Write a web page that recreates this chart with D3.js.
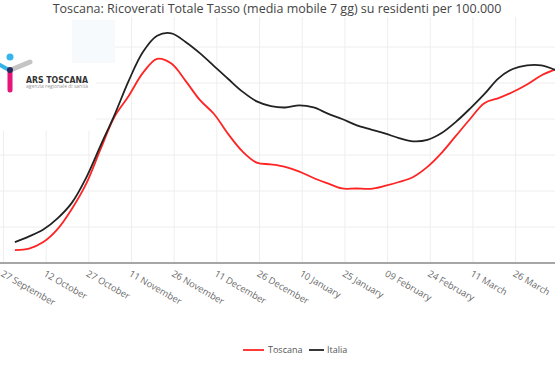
<!DOCTYPE html>
<html>
<head>
<meta charset="utf-8">
<script src="https://cdn.jsdelivr.net/npm/d3@7"></script>
<style>
  html, body { margin: 0; padding: 0; background: #fff; }
  svg { display: block; font-family: "Open Sans", "DejaVu Sans", sans-serif; }
</style>
</head>
<body>
<svg id="chart" width="555" height="370"></svg>
<script>
// ---- data ----
const dates = [
  "2020-10-01","2020-10-06","2020-10-11","2020-10-16","2020-10-21","2020-10-26","2020-10-31",
  "2020-11-05","2020-11-10","2020-11-15","2020-11-20","2020-11-25","2020-11-30","2020-12-05",
  "2020-12-10","2020-12-15","2020-12-20","2020-12-25","2020-12-30","2021-01-04","2021-01-09",
  "2021-01-14","2021-01-19","2021-01-24","2021-01-29","2021-02-03","2021-02-08","2021-02-13",
  "2021-02-18","2021-02-23","2021-02-28","2021-03-05","2021-03-10","2021-03-15","2021-03-20",
  "2021-03-25","2021-03-30","2021-04-04","2021-04-09"
];
const toscana = [
  3.6, 4.0, 5.8, 9.4, 15.0, 21.9, 31.4,
  40.6, 46.4, 52.8, 56.7, 55.4, 50.6, 45.3,
  41.4, 35.8, 31.0, 27.9, 27.4, 26.7, 25.4,
  23.6, 22.1, 20.7, 20.7, 20.6, 21.4, 22.5,
  23.9, 26.7, 30.6, 35.3, 40.0, 44.4, 45.8,
  47.5, 49.6, 52.1, 53.8
];
const italia = [
  5.8, 7.4, 9.3, 12.4, 16.7, 23.6, 32.4,
  41.1, 50.6, 58.6, 63.1, 63.8, 61.4, 58.3,
  54.7, 51.1, 47.6, 44.9, 43.6, 43.2, 43.8,
  43.2, 41.5, 40.0, 38.3, 37.1, 36.0, 34.7,
  33.8, 34.2, 36.1, 39.2, 42.9, 46.9, 51.3,
  53.9, 54.9, 54.9, 53.6
];
const tickDates = [
  "2020-09-27","2020-10-12","2020-10-27","2020-11-11","2020-11-26","2020-12-11","2020-12-26",
  "2021-01-10","2021-01-25","2021-02-09","2021-02-24","2021-03-11","2021-03-26"
];
const tickLabels = [
  "27 September","12 October","27 October","11 November","26 November","11 December","26 December",
  "10 January","25 January","09 February","24 February","11 March","26 March"
];
const yGrid = [10, 20, 30, 40, 50, 60];
const seriesNames = ["Toscana", "Italia"];
const seriesColors = ["#ff2424", "#222222"];
const title = "Toscana: Ricoverati Totale Tasso (media mobile 7 gg) su residenti per 100.000";

// ---- setup ----
const parse = d3.utcParse("%Y-%m-%d");
const svg = d3.select("#chart");
const W = 555, H = 370;
const plotTop = 17, plotBottom = 263;

const x = d3.scaleUtc()
  .domain([parse("2020-09-27"), parse("2021-04-09")])
  .range([3.5, 3.5 + 194 * 2.845]);
const y = d3.scaleLinear().domain([0, 10]).range([plotBottom, plotBottom - 36]);

// gridlines
const grid = svg.append("g");
grid.selectAll("line.v").data(tickDates).join("line")
  .attr("x1", d => x(parse(d))).attr("x2", d => x(parse(d)))
  .attr("y1", plotTop).attr("y2", plotBottom)
  .attr("stroke", "#eeeeee").attr("stroke-width", 1);
grid.selectAll("line.h").data(yGrid).join("line")
  .attr("x1", 0).attr("x2", W)
  .attr("y1", d => y(d)).attr("y2", d => y(d))
  .attr("stroke", "#eeeeee").attr("stroke-width", 1);

// logo backing (covers grid like the reference)
svg.append("rect").attr("x", 0).attr("y", 0).attr("width", 96).attr("height", 131).attr("fill", "#fff");
svg.append("rect").attr("x", 72).attr("y", 20).attr("width", 43).attr("height", 43).attr("fill", "#f6fafc");

// x axis line
svg.append("line").attr("x1", 0).attr("x2", W)
  .attr("y1", plotBottom).attr("y2", plotBottom)
  .attr("stroke", "#a6a6a6").attr("stroke-width", 2);

// tick labels
const tl = svg.append("g");
tl.selectAll("text").data(tickDates).join("text")
  .attr("transform", d => `translate(${x(parse(d)) + 0.5},${plotBottom + 6}) rotate(30)`)
  .attr("dy", "0.8em")
  .attr("font-size", "9.3px")
  .attr("fill", "#6a6a6a")
  .text((d, i) => tickLabels[i]);

// lines
const line = d3.line()
  .x(d => x(d.date)).y(d => y(d.v))
  .curve(d3.curveCatmullRom.alpha(0.5));
[toscana, italia].forEach((vals, si) => {
  const data = dates.map((d, i) => ({ date: parse(d), v: vals[i] }));
  svg.append("path").datum(data)
    .attr("d", line)
    .attr("fill", "none")
    .attr("stroke", seriesColors[si])
    .attr("stroke-width", 1.8)
    .attr("stroke-linejoin", "round");
});

// title
svg.append("text").attr("x", 277).attr("y", 12.5)
  .attr("text-anchor", "middle").attr("font-size", "12.5px").attr("fill", "#444")
  .text(title);

// legend
const legendPos = [{lx: 243, lw: 21, tx: 268}, {lx: 309, lw: 15, tx: 327}];
const lg = svg.append("g");
seriesNames.forEach((n, i) => {
  const p = legendPos[i];
  lg.append("line").attr("x1", p.lx).attr("x2", p.lx + p.lw).attr("y1", 350).attr("y2", 350)
    .attr("stroke", seriesColors[i]).attr("stroke-width", 1.8);
  lg.append("text").attr("x", p.tx).attr("y", 353).attr("font-size", "9px").attr("fill", "#555").text(n);
});

// ARS Toscana logo
const logo = svg.append("g");
logo.append("line").attr("x1", 0).attr("y1", 65).attr("x2", 9).attr("y2", 70)
  .attr("stroke", "#36b3e6").attr("stroke-width", 4).attr("stroke-linecap", "round");
logo.append("line").attr("x1", 13).attr("y1", 69).attr("x2", 30).attr("y2", 62)
  .attr("stroke", "#c4c4c4").attr("stroke-width", 5).attr("stroke-linecap", "round");
logo.append("line").attr("x1", 10).attr("y1", 73).attr("x2", 10).attr("y2", 90)
  .attr("stroke", "#e5157a").attr("stroke-width", 5).attr("stroke-linecap", "round");
logo.append("circle").attr("cx", 10).attr("cy", 70).attr("r", 3).attr("fill", "#2a2a5a");
logo.append("circle").attr("cx", 10).attr("cy", 57).attr("r", 3.5).attr("fill", "#34b6ea");
logo.append("text").attr("x", 26).attr("y", 82.5).attr("font-size", "9px")
  .attr("font-weight", "bold").attr("fill", "#333").attr("font-family", "'Liberation Sans Narrow', 'DejaVu Sans Condensed', sans-serif")
  .attr("textLength", 62).attr("lengthAdjust", "spacingAndGlyphs")
  .text("ARS TOSCANA");
logo.append("text").attr("x", 26).attr("y", 88).attr("font-size", "4.5px").attr("fill", "#999")
  .attr("textLength", 62).attr("lengthAdjust", "spacingAndGlyphs")
  .text("agenzia regionale di sanità");
</script>
</body>
</html>
